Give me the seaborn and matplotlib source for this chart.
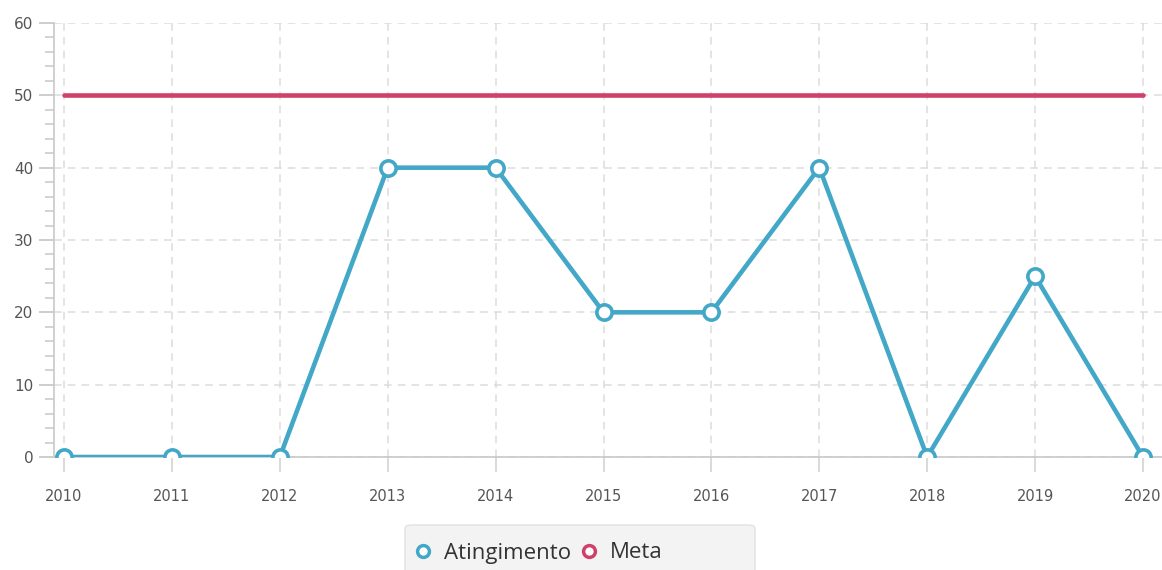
import numpy as np
import pandas as pd
import matplotlib
matplotlib.use("Agg")
import matplotlib.pyplot as plt
import seaborn as sns
from matplotlib.patches import FancyBboxPatch
from matplotlib.lines import Line2D
from matplotlib.ticker import MultipleLocator

years = [2010, 2011, 2012, 2013, 2014, 2015, 2016, 2017, 2018, 2019, 2020]
atingimento = [0, 0, 0, 40, 40, 20, 20, 40, 0, 25, 0]
meta = [50, 50, 50, 50, 50, 50, 50, 50, 50, 50, 50]
series_names = ["Atingimento", "Meta"]
colors = ["#43a8c8", "#cf406a"]

sns.set_theme(style="white")
plt.rcParams['font.family'] = ['DejaVu Sans']

df = pd.DataFrame({
    "ano": years * 2,
    "valor": atingimento + meta,
    "serie": [series_names[0]] * len(years) + [series_names[1]] * len(years),
})

fig = plt.figure(figsize=(11.62, 5.70), dpi=100)
W, H = 1162, 570
ax = fig.add_axes([54 / W, 1 - 457 / H, (W - 54) / W, (457 - 23) / H])

# Meta line first (no markers)
sns.lineplot(data=df[df.serie == "Meta"], x="ano", y="valor", color=colors[1],
             linewidth=3.3, ax=ax, legend=False, zorder=3)
sns.lineplot(data=df[df.serie == "Atingimento"], x="ano", y="valor", color=colors[0],
             linewidth=3.3, marker="o", markersize=11, markerfacecolor="white",
             markeredgecolor=colors[0], markeredgewidth=2.6, ax=ax, legend=False, zorder=4)

px_per_year = (1143 - 64) / 10
ax.set_xlim(2010 - 10 / px_per_year, 2020 + 19 / px_per_year)
ax.set_ylim(0, 60)
ax.set_xticks(years)
ax.set_xticklabels([str(y) for y in years])
ax.yaxis.set_major_locator(MultipleLocator(10))
ax.yaxis.set_minor_locator(MultipleLocator(2))
ax.set_xlabel("")
ax.set_ylabel("")

for s in ["top", "right"]:
    ax.spines[s].set_visible(False)
for s in ["left", "bottom"]:
    ax.spines[s].set_color("#c8c8c8")
    ax.spines[s].set_linewidth(1.2)

ax.grid(True, which="major", color="#dcdcdc", linestyle=(0, (5, 4)), linewidth=1.1)
ax.tick_params(axis="y", which="major", length=11, width=1.1, color="#c0c0c0",
               labelsize=11, labelcolor="#555555", pad=4, left=True)
ax.tick_params(axis="y", which="minor", length=6.5, width=1.1, color="#c8c8c8", left=True)
ax.tick_params(axis="x", which="major", length=11, width=1.1, color="#d0d0d0",
               labelsize=10.5, labelcolor="#555555", pad=12, bottom=True)

# legend background box
fig.patches.append(FancyBboxPatch((405 / W, -0.05), 350 / W, (45 / H) + 0.05,
                                  boxstyle="round,pad=0,rounding_size=0.006",
                                  transform=fig.transFigure, facecolor="#f3f3f3",
                                  edgecolor="#e2e2e2", linewidth=1.0, zorder=0))
handles = [Line2D([], [], linestyle="none", marker="o", markersize=8.5,
                  markerfacecolor="white", markeredgecolor=c, markeredgewidth=2.5)
           for c in colors]
fig.legend(handles, series_names, loc="center left",
           bbox_to_anchor=(404 / W, 1 - 553 / H), frameon=False, ncol=2,
           borderpad=0, handlelength=0.7, handletextpad=0.6, columnspacing=0.45,
           prop={"family": "Open Sans", "size": 16}, labelcolor="#333333")

fig.savefig("out.png", dpi=100)
